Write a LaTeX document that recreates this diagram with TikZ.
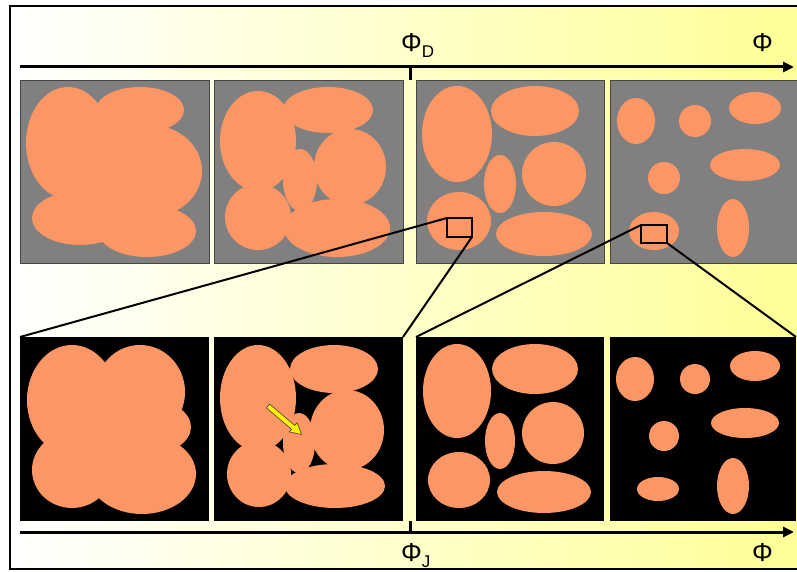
\documentclass[tikz,border=0pt]{standalone}
\usepackage{fontspec}
\setmainfont{Liberation Sans}
\usetikzlibrary{arrows.meta}
\definecolor{blob}{RGB}{252,150,100}
\definecolor{panelgray}{RGB}{128,128,128}
\definecolor{panelline}{RGB}{70,70,70}
\definecolor{bgyel}{RGB}{255,255,150}
\definecolor{bgmid}{RGB}{255,255,218}
\newcommand\blobE[4]{\fill[blob] (#1,#2) ellipse[x radius=#3pt, y radius=#4pt];}
\begin{document}
\begin{tikzpicture}[x=1pt,y=-1pt,
  graypanel/.style={draw=panelline, line width=0.8pt, fill=panelgray, minimum width=189pt, minimum height=183pt, anchor=north west, inner sep=0pt, outer sep=0pt},
  blackpanel/.style={fill=black, minimum width=189pt, minimum height=184pt, anchor=north west, inner sep=0pt, outer sep=0pt},
  zoombox/.style={draw=black, line width=2pt, anchor=north west, inner sep=0pt, outer sep=0pt},
  zoomline/.style={line width=2pt},
  axisline/.style={line width=3pt, -{Triangle[length=11pt,width=10pt]}},
  tickmark/.style={line width=3pt},
  lbl/.style={font=\fontsize{26}{26}\selectfont, inner sep=0pt, anchor=base west}
]
\useasboundingbox (0,0) rectangle (797,572);
\clip (0,0) rectangle (797,572);
\fill[white] (0,0) rectangle (797,572);
\shade[left color=white, middle color=bgmid, right color=bgyel] (10,6) rectangle (802,569);
\draw[line width=1.2pt] (10,6) rectangle (802,569);

% top panels
\node[graypanel] (tp1) at (20,80) {};
\node[graypanel] (tp2) at (214,80) {};
\node[graypanel, minimum width=188pt] (tp3) at (416,80) {};
\node[graypanel, minimum width=192pt] (tp4) at (610,80) {};
% bottom panels
\node[blackpanel] (bp1) at (20,337) {};
\node[blackpanel] (bp2) at (214,337) {};
\node[blackpanel, minimum width=188pt] (bp3) at (416,337) {};
\node[blackpanel, minimum width=186pt] (bp4) at (610,337) {};

% top panel 1
\blobE{68}{143}{42}{56}
\blobE{140}{110}{44}{23}
\blobE{150}{171}{52}{46}
\blobE{80}{218}{48}{27}
\blobE{147}{231}{49}{26}
\blobE{110}{165}{60}{58}
% top panel 2
\blobE{258}{141}{38}{50}
\blobE{328}{110}{45}{23}
\blobE{350}{167}{36}{38}
\blobE{300}{180}{17}{31}
\blobE{258}{217}{33}{33}
\blobE{337}{228}{53}{29}
% top panel 3
\blobE{457}{134}{35}{48}
\blobE{535}{111}{44}{25}
\blobE{500}{184}{16}{29}
\blobE{554}{174}{32}{32}
\blobE{459}{221}{32}{29}
\blobE{544}{234}{48}{22}
% top panel 4
\blobE{636}{121}{19}{23}
\blobE{695}{121}{16}{16}
\blobE{755}{108}{26}{16}
\blobE{664}{178}{16}{16}
\blobE{745}{165}{35}{16}
\blobE{654}{231}{25}{19}
\blobE{733}{228}{16}{29}

% bottom panel 1
\blobE{72}{400}{45}{55}
\blobE{140}{392}{45}{47}
\blobE{150}{427}{41}{27}
\blobE{72}{470}{40}{38}
\blobE{142}{474}{54}{40}
\blobE{108}{432}{55}{55}
% bottom panel 2
\blobE{258}{398}{38}{53}
\blobE{334}{369}{44}{24}
\blobE{347}{430}{37}{40}
\blobE{299}{443}{16}{30}
\blobE{259}{474}{32}{33}
\blobE{335}{486}{50}{22}
% bottom panel 3
\blobE{457}{391}{34}{47}
\blobE{535}{369}{43}{25}
\blobE{500}{441}{15}{28}
\blobE{553}{433}{31}{31}
\blobE{459}{480}{31}{28}
\blobE{544}{492}{47}{21}
% bottom panel 4
\blobE{635}{379}{19}{22}
\blobE{695}{379}{15}{15}
\blobE{755}{366}{25}{15}
\blobE{664}{436}{15}{15}
\blobE{745}{423}{34}{15}
\blobE{658}{489}{21}{12}
\blobE{733}{486}{16}{28}

% yellow arrow
\begin{scope}[shift={(268,406)}, rotate=-40.3]
  \draw[fill=yellow, draw=black!75, line width=0.6pt]
    (0,-2.5) -- (33,-2.5) -- (33,-6) -- (44,0) -- (33,6) -- (33,2.5) -- (0,2.5) -- cycle;
\end{scope}

% zoom boxes and lines
\node[zoombox, minimum width=25pt, minimum height=19pt] (zr3) at (447,218) {};
\node[zoombox, minimum width=26pt, minimum height=18pt] (zr4) at (641,225) {};
\draw[zoomline] (zr3.north west) -- (bp1.north west);
\draw[zoomline] (zr3.south east) -- (bp2.north east);
\draw[zoomline] (zr4.north west) -- (bp3.north west);
\draw[zoomline] (zr4.south east) -- (bp4.north east);

% axes
\coordinate (ta0) at (20,67);
\coordinate (ta1) at (794,67);
\coordinate (tt0) at (410,66);
\coordinate (tt1) at (410,80);
\coordinate (ba0) at (20,532);
\coordinate (ba1) at (794,532);
\coordinate (bt0) at (410,521);
\coordinate (bt1) at (410,533);
\draw[axisline] (ta0) -- (ta1);
\draw[tickmark] (tt0) -- (tt1);
\draw[axisline] (ba0) -- (ba1);
\draw[tickmark] (bt0) -- (bt1);

% labels
\node[lbl] (phid) at (401,52) {Φ\raisebox{-6pt}{\fontsize{17}{17}\selectfont D}};
\node[lbl] (phit) at (752,52) {Φ};
\node[lbl] (phij) at (401,561) {Φ\raisebox{-6pt}{\fontsize{17}{17}\selectfont J}};
\node[lbl] (phib) at (752,561) {Φ};
\end{tikzpicture}
\end{document}
